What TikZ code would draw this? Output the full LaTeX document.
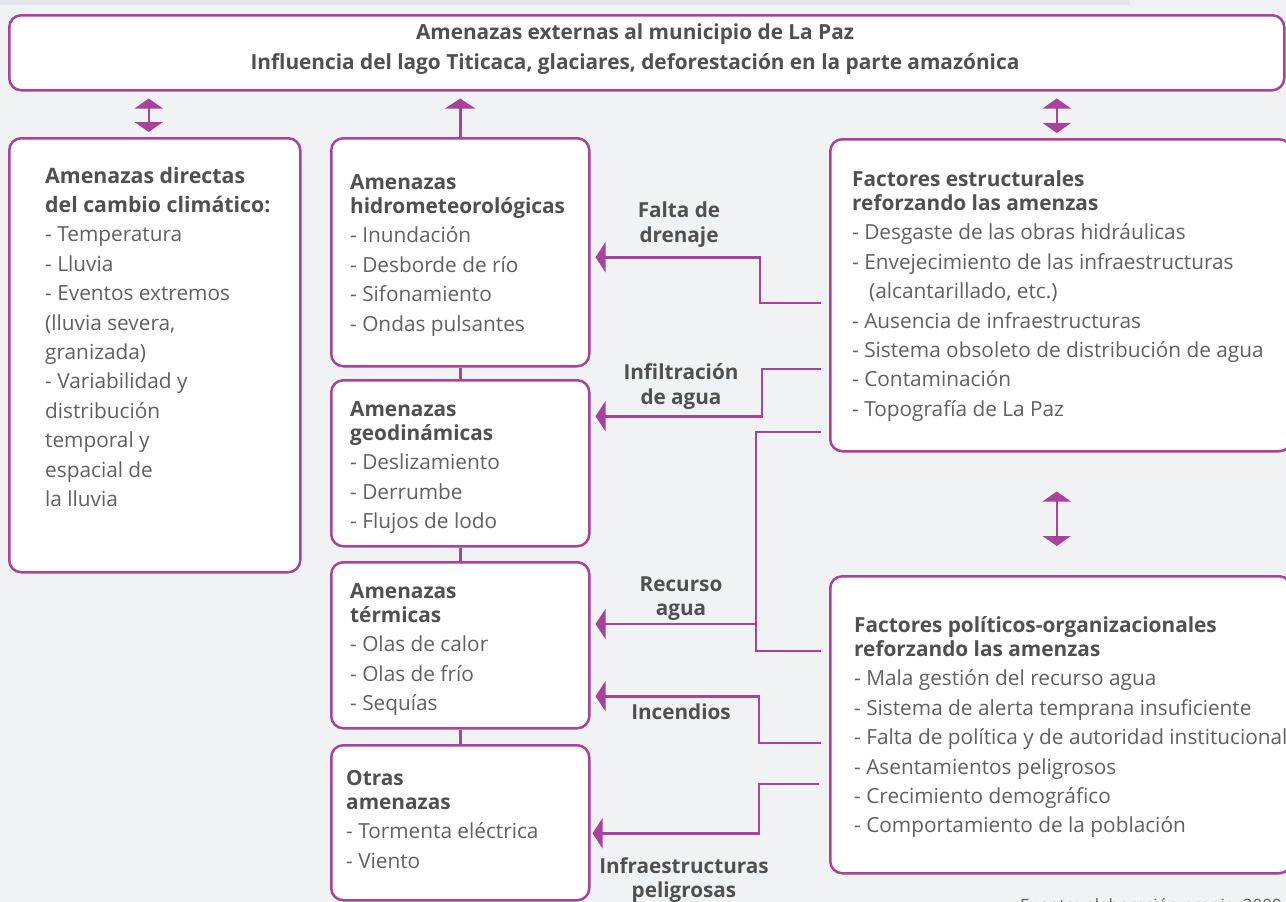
\documentclass[tikz,border=0pt]{standalone}
\usepackage{fontspec}
\setmainfont{Open Sans}
\usetikzlibrary{arrows.meta,calc}
\definecolor{pur}{RGB}{168,66,156}
\definecolor{bg}{RGB}{241,242,244}
\definecolor{strip}{RGB}{229,230,233}
\definecolor{txt}{RGB}{96,96,96}
\definecolor{hd}{RGB}{80,80,80}
\begin{document}
\begin{tikzpicture}[x=1pt,y=-1pt,
  box/.style={draw=pur, line width=2.5pt, rounded corners=12pt, fill=white, rectangle, anchor=north west, inner sep=0pt},
  conn/.style={draw=pur, line width=2.5pt},
  arr/.style={-{Triangle[width=30pt,length=10pt]}},
  dbl/.style={{Triangle[width=28pt,length=10pt]}-{Triangle[width=28pt,length=10pt]}},
  bodytxt/.style={anchor=base west, inner sep=0pt, text=txt, font=\fontsize{20.8}{29.4}\selectfont},
  lab/.style={text=hd, font=\fontsize{20.7}{24.5}\selectfont\bfseries, align=center, inner sep=0pt}
]
\useasboundingbox (0,0) rectangle (1286,902);
\fill[bg] (0,0) rectangle (1286,902);
\fill[strip] (0,0) rectangle (1130,5);

% boxes
\node[box, minimum width=1275pt, minimum height=75pt] (top) at (8,14) {};
\node[box, minimum width=291pt, minimum height=434pt] (direct) at (8,137) {};
\node[box, minimum width=258pt, minimum height=228pt] (hidro) at (330,137) {};
\node[box, minimum width=258pt, minimum height=166pt] (geo) at (330,379) {};
\node[box, minimum width=258pt, minimum height=166pt] (term) at (330,561) {};
\node[box, minimum width=258pt, minimum height=155pt] (otras) at (330,744) {};
\node[box, minimum width=461pt, minimum height=312pt] (estr) at (829,138) {};
\node[box, minimum width=461pt, minimum height=297pt] (polit) at (829,575) {};

% top box text
\node[lab, font=\fontsize{20.8}{30}\selectfont\bfseries] (ttop) at (635,49) {Amenazas externas al municipio de La Paz\\Influencia del lago Titicaca, glaciares, deforestación en la parte amazónica};

% box texts
\node[bodytxt] (tdirect) at (45,183) {\begin{tabular}[t]{@{}l@{}}
\textcolor{hd}{\fontsize{21.3}{29.4}\selectfont\bfseries Amenazas directas}\\
\textcolor{hd}{\fontsize{21.3}{29.4}\selectfont\bfseries del cambio climático:}\\
- Temperatura\\ - Lluvia\\ - Eventos extremos\\ (lluvia severa,\\ granizada)\\
- Variabilidad y\\ distribución\\ temporal y\\ espacial de\\ la lluvia
\end{tabular}};

\node[bodytxt] (thidro) at (350,189) {\begin{tabular}[t]{@{}l@{}}
\textcolor{hd}{\bfseries Amenazas}\\[-5pt]
\textcolor{hd}{\bfseries hidrometeorológicas}\\
- Inundación\\ - Desborde de río\\ - Sifonamiento\\ - Ondas pulsantes
\end{tabular}};

\node[bodytxt] (tgeo) at (350,416) {\begin{tabular}[t]{@{}l@{}}
\textcolor{hd}{\bfseries Amenazas}\\[-5pt]
\textcolor{hd}{\bfseries geodinámicas}\\
- Deslizamiento\\ - Derrumbe\\ - Flujos de lodo
\end{tabular}};

\node[bodytxt] (tterm) at (350,598) {\begin{tabular}[t]{@{}l@{}}
\textcolor{hd}{\bfseries Amenazas}\\[-5pt]
\textcolor{hd}{\bfseries térmicas}\\
- Olas de calor\\ - Olas de frío\\ - Sequías
\end{tabular}};

\node[bodytxt] (totras) at (346,785) {\begin{tabular}[t]{@{}l@{}}
\textcolor{hd}{\bfseries Otras}\\[-5pt]
\textcolor{hd}{\bfseries amenazas}\\
- Tormenta eléctrica\\ - Viento
\end{tabular}};

\node[bodytxt] (testr) at (852,186) {\begin{tabular}[t]{@{}l@{}}
\textcolor{hd}{\bfseries Factores estructurales}\\[-5pt]
\textcolor{hd}{\bfseries reforzando las amenzas}\\
- Desgaste de las obras hidráulicas\\
- Envejecimiento de las infraestructuras\\
\hspace{17pt}(alcantarillado, etc.)\\
- Ausencia de infraestructuras\\
- Sistema obsoleto de distribución de agua\\
- Contaminación\\
- Topografía de La Paz
\end{tabular}};

\node[bodytxt] (tpolit) at (854,632) {\begin{tabular}[t]{@{}l@{}}
\textcolor{hd}{\bfseries Factores políticos-organizacionales}\\[-5pt]
\textcolor{hd}{\bfseries reforzando las amenzas}\\
- Mala gestión del recurso agua\\
- Sistema de alerta temprana insuficiente\\
- Falta de política y de autoridad institucional\\
- Asentamientos peligrosos\\
- Crecimiento demográfico\\
- Comportamiento de la población
\end{tabular}};

% vertical links in column
\draw[conn] (hidro.south) -- (geo.north);
\draw[conn] (geo.south) -- (term.north);
\draw[conn] (term.south) -- (otras.north);
\draw[conn, arr, shorten >=7pt] (hidro.north) -- (hidro.north |- top.south);

% double arrows
\draw[conn, dbl, shorten <=7pt, shorten >=5pt] ([xshift=-6pt]direct.north |- top.south) -- ([xshift=-6pt]direct.north);
\draw[conn, dbl, shorten <=7pt, shorten >=5pt] ([xshift=-4pt]estr.north |- top.south) -- ([xshift=-4pt]estr.north);
\draw[conn, dbl, shorten <=39pt, shorten >=29pt] ([xshift=-4pt]estr.south) -- ([xshift=-4pt]polit.north);

% connectors
\coordinate (f1) at ($(estr.north west)+(-8,165)$);
\draw[conn, arr, shorten >=5pt] (f1) -- ++(-61,0) |- ($(hidro.east)+(0,5)$);
\coordinate (f2) at ($(estr.north west)+(-8,231)$);
\draw[conn, arr, shorten >=5pt] (f2) -- ++(-59,0) |- ($(geo.east)+(0,-47)$);
\coordinate (f3) at ($(estr.north west)+(-8,294)$);
\coordinate (f3b) at ($(polit.north west)+(-8,76)$);
\draw[conn] (f3) -- ++(-65,0) |- (f3b);
\coordinate (rj) at ($(polit.north west)+(-73,49)$);
\draw[conn, arr, shorten >=5pt] (rj) -- (rj -| term.east);
\coordinate (f4) at ($(polit.north west)+(-8,168)$);
\draw[conn, arr, shorten >=5pt] (f4) -- ++(-62,0) |- ($(term.east)+(0,51)$);
\coordinate (f5) at ($(polit.north west)+(-10,209)$);
\draw[conn, arr, shorten >=2pt] (f5) -- ++(-60,0) |- ($(otras.east)+(0,10.5)$);

% connector labels
\node[lab] (l1) at (679,224.5) {Falta de\\drenaje};
\node[lab] (l2) at (681,386.5) {Infiltración\\de agua};
\node[lab] (l3) at (681,598.5) {Recurso\\agua};
\node[lab] (l4) at (681,712) {Incendios};
\node[lab] (l5) at (684,880) {Infraestructuras\\peligrosas};

% source (cut off)
\node[anchor=base west, inner sep=0pt, text=txt, font=\fontsize{17}{20}\selectfont] (src) at (1020,911) {Fuente: elaboración propia, 2009};
\end{tikzpicture}
\end{document}
